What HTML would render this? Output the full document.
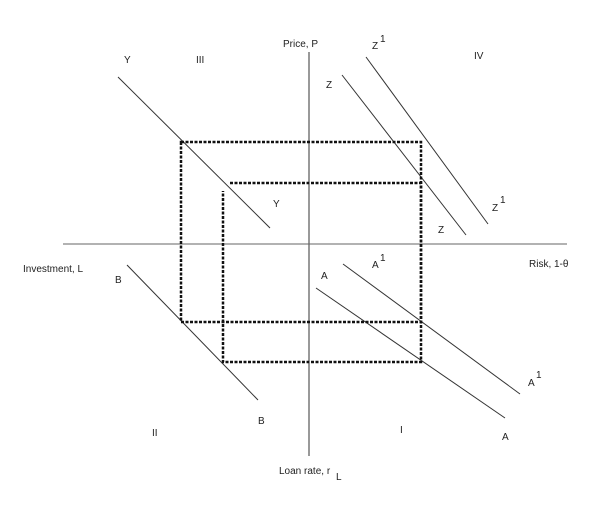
<!DOCTYPE html>
<html><head><style>body{margin:0;background:#fff}svg{display:block}text{font-family:"Liberation Sans",sans-serif;font-size:10px;fill:#222}</style></head><body>
<svg width="600" height="512" viewBox="0 0 600 512">
<g stroke="#333" stroke-width="1" fill="none">
<line x1="309" y1="52" x2="309" y2="456"/>
<line x1="63" y1="244" x2="567" y2="244" stroke="#666"/>
<line x1="118" y1="77" x2="270" y2="228"/>
<line x1="342" y1="75" x2="466" y2="235"/>
<line x1="366" y1="57" x2="488" y2="224"/>
<line x1="316" y1="288" x2="505" y2="418"/>
<line x1="343" y1="264" x2="520" y2="394"/>
<line x1="127" y1="265" x2="258" y2="400"/>
</g>
<g stroke="#111" stroke-width="2.5" stroke-dasharray="3,1.5" fill="none">
<rect x="181" y="142" width="240" height="180"/>
<polyline points="230,183 421,183 421,362 223,362 223,191"/>
</g>
<text x="283" y="47">Price, P</text>
<text x="372" y="49">Z</text><text x="380" y="42" font-size="8">1</text>
<text x="124" y="63">Y</text>
<text x="196" y="63">III</text>
<text x="474" y="59">IV</text>
<text x="326" y="88">Z</text>
<text x="273" y="207">Y</text>
<text x="492" y="211">Z</text><text x="500" y="203" font-size="8">1</text>
<text x="438" y="233">Z</text>
<text x="529" y="267">Risk, 1-θ</text>
<text x="23" y="272">Investment, L</text>
<text x="372" y="268">A</text><text x="380" y="261" font-size="8">1</text>
<text x="321" y="279">A</text>
<text x="115" y="283">B</text>
<text x="528" y="386">A</text><text x="536" y="378" font-size="8">1</text>
<text x="258" y="424">B</text>
<text x="152" y="436">II</text>
<text x="400" y="433">I</text>
<text x="502" y="440">A</text>
<text x="279" y="474">Loan rate, r</text><text x="336" y="480" font-size="11">L</text>
</svg>
</body></html>
